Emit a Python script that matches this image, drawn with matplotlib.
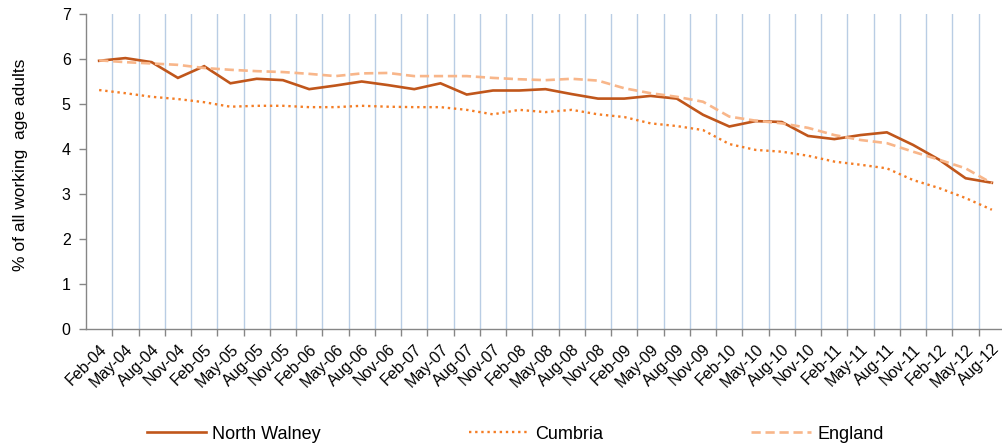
import matplotlib
matplotlib.use('Agg')
import matplotlib.pyplot as plt
import numpy as np

plt.rcParams.update({
    'font.family': ['Liberation Sans', 'DejaVu Sans'],
    'font.size': 11,
})

# quarterly labels Feb-04 .. Aug-12
QUARTERS = [
    "Feb-04", "May-04", "Aug-04", "Nov-04", "Feb-05", "May-05", "Aug-05", "Nov-05",
    "Feb-06", "May-06", "Aug-06", "Nov-06", "Feb-07", "May-07", "Aug-07", "Nov-07",
    "Feb-08", "May-08", "Aug-08", "Nov-08", "Feb-09", "May-09", "Aug-09", "Nov-09",
    "Feb-10", "May-10", "Aug-10", "Nov-10", "Feb-11", "May-11", "Aug-11", "Nov-11",
    "Feb-12", "May-12", "Aug-12",
]

north_walney = [5.96, 6.02, 5.93, 5.58, 5.84, 5.46, 5.56, 5.53, 5.33, 5.41,
                5.50, 5.42, 5.33, 5.46, 5.21, 5.30, 5.30, 5.33, 5.22, 5.12,
                5.12, 5.18, 5.12, 4.76, 4.50, 4.62, 4.60, 4.29, 4.22, 4.31,
                4.37, 4.09, 3.76, 3.35, 3.25]

cumbria = [5.31, 5.24, 5.16, 5.11, 5.04, 4.94, 4.96, 4.96, 4.93, 4.93,
           4.96, 4.94, 4.93, 4.93, 4.87, 4.77, 4.87, 4.82, 4.87, 4.77,
           4.71, 4.57, 4.51, 4.42, 4.11, 3.98, 3.94, 3.85, 3.72, 3.65,
           3.57, 3.31, 3.13, 2.91, 2.65]

england = [5.97, 5.93, 5.90, 5.87, 5.80, 5.76, 5.73, 5.71, 5.67, 5.62,
           5.68, 5.69, 5.62, 5.62, 5.62, 5.58, 5.55, 5.53, 5.56, 5.52,
           5.35, 5.24, 5.16, 5.05, 4.72, 4.63, 4.57, 4.47, 4.31, 4.20,
           4.13, 3.94, 3.76, 3.57, 3.24]

SERIES = {
    "North Walney": {"color": "#C0561B", "ls": "-", "lw": 1.9},
    "Cumbria":      {"color": "#F47D25", "ls": (0, (1, 1.6)), "lw": 1.7},
    "England":      {"color": "#F8B68A", "ls": (0, (3.5, 1.8)), "lw": 1.9},
}

fig = plt.figure(figsize=(10.02, 4.48), dpi=100)
ax = fig.add_axes([86 / 1002, 1 - 329 / 448, 919 / 1002, 315 / 448])

x = np.arange(len(QUARTERS))
for name, vals in [("North Walney", north_walney), ("Cumbria", cumbria), ("England", england)]:
    cfg = SERIES[name]
    ax.plot(x, vals, color=cfg["color"], linestyle=cfg["ls"], linewidth=cfg["lw"],
            label=name, solid_joinstyle='miter')

ax.set_xlim(-0.5, len(QUARTERS) - 0.5)
ax.set_ylim(0, 7)
ax.set_yticks(range(0, 8))

ax.set_xticks(x)
ax.set_xticklabels(QUARTERS, rotation=45, ha='right', rotation_mode='anchor', fontsize=11.5)
ax.set_xticks(np.arange(0.5, len(QUARTERS) - 0.5), minor=True)
ax.tick_params(axis='x', which='major', length=0, pad=9)
ax.tick_params(axis='x', which='minor', length=5, color='#868686', width=1)
ax.tick_params(axis='y', length=5, color='#868686', width=1, labelsize=11.5, pad=6)
ax.grid(axis='x', which='minor', color='#B9CDE4', linewidth=1)
ax.set_axisbelow(True)

for s in ['top', 'right']:
    ax.spines[s].set_visible(False)
for s in ['left', 'bottom']:
    ax.spines[s].set_color('#868686')
    ax.spines[s].set_linewidth(1)

ax.set_ylabel("% of all working  age adults", fontsize=12.5, labelpad=3)
ax.yaxis.set_label_coords(-58 / 919, 0.52)

fig.legend(loc='center', bbox_to_anchor=(515 / 1002, 1 - 434 / 448), ncol=3,
           frameon=False, fontsize=13, handlelength=3.3, handletextpad=0.35,
           columnspacing=8.2)

fig.savefig("out.png", dpi=100)
